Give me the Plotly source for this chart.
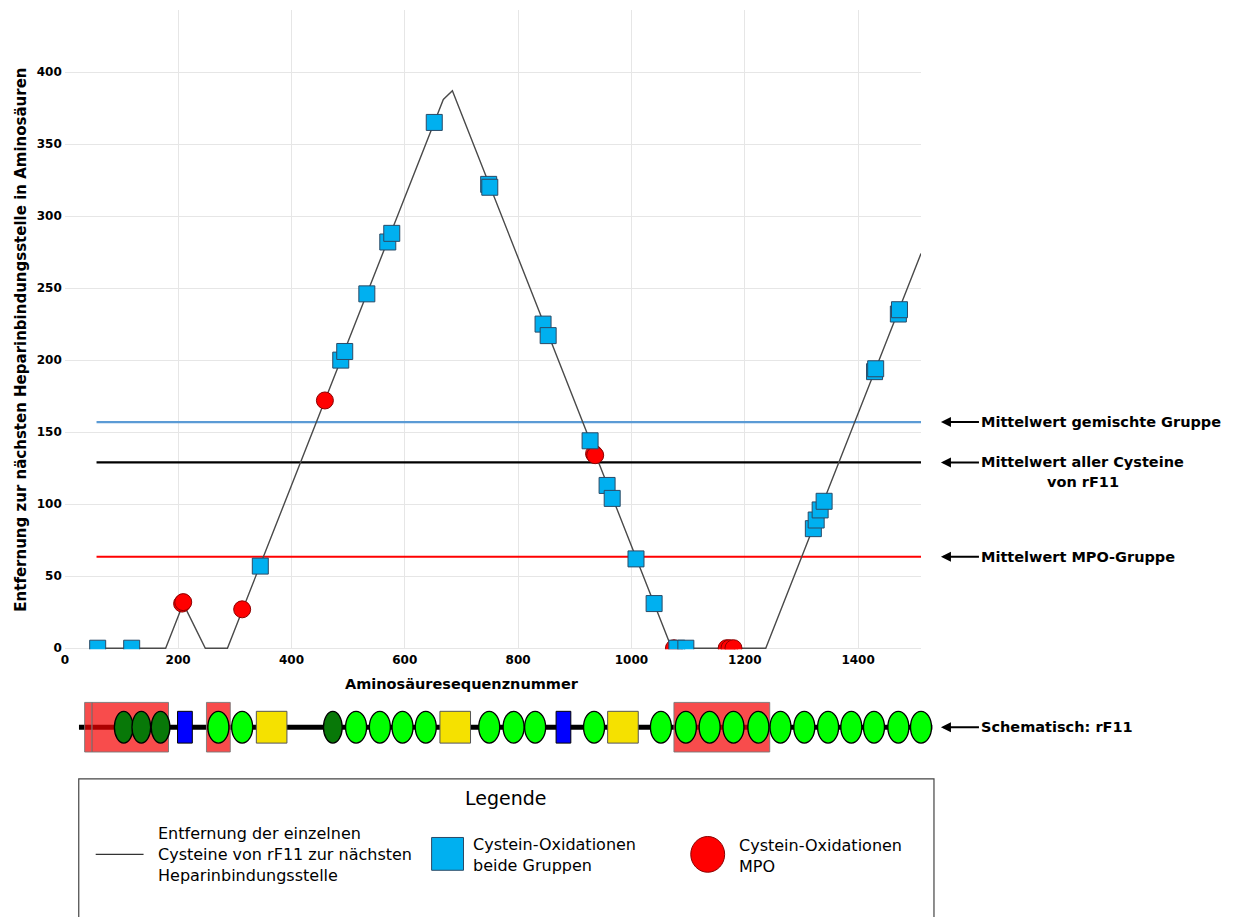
import plotly.graph_objects as go

# ---------------------------------------------------------------------------
# Data
# ---------------------------------------------------------------------------
# Distance of the cysteines of rF11 to the nearest heparin-binding site
curve_pos = [58, 178, 209, 248, 287, 668, 684, 1071, 1237, 1511]
curve_dist = [0, 0, 31, 0, 0, 381, 387, 0, 0, 274]

# Cysteine oxidations found in both groups
both_pos = [58, 118, 345, 487, 494, 533, 570, 577, 652, 748, 750, 844, 853,
            927, 957, 966, 1008, 1040, 1080, 1096, 1321, 1326, 1333, 1340,
            1429, 1431, 1471, 1473]
both_dist = [0, 0, 57, 200, 206, 246, 282, 288, 365, 322, 320, 225, 217,
             144, 113, 104, 62, 31, 0, 0, 83, 89, 96, 102,
             192, 194, 232, 235]

# Cysteine oxidations found in the MPO group
mpo_pos = [207, 209, 313, 459, 934, 936, 1075, 1168, 1173, 1180]
mpo_dist = [31, 32, 27, 172, 135, 134, 0, 0, 0, 0]

# Group means
mean_labels = ["Mittelwert gemischte Gruppe", "Mittelwert aller Cysteine",
               "Mittelwert MPO-Gruppe"]
mean_values = [157, 129, 63.5]
mean_colors = ["#5B9BD5", "#000000", "#FF0000"]
mean_from = 56

x_ticks = [0, 200, 400, 600, 800, 1000, 1200, 1400]
y_ticks = [0, 50, 100, 150, 200, 250, 300, 350, 400]

# Domain schematic of rF11 (residue positions)
backbone = [25, 1531]
heparin_sites = [(35, 48), (48, 183), (250, 292), (1075, 1244)]
dark_domains = [104, 135, 169, 473]
light_domains = [271, 313, 514, 556, 596, 637, 749, 792, 830, 934, 1052,
                 1096, 1138, 1180, 1224, 1263, 1305, 1347, 1388, 1428, 1471,
                 1511]
blue_blocks = [212, 880]
yellow_blocks = [365, 689, 985]

# ---------------------------------------------------------------------------
# Page geometry helpers (paper coordinates from page pixels)
# ---------------------------------------------------------------------------
W, H = 1233, 917
FONT = "DejaVu Sans"


def px(x):
    return x / W


def py(y):
    return 1 - y / H


X_RANGE = [0, 1511]
X_LEFT, X_RIGHT = 61, 920
scale = (X_RIGHT - X_LEFT) / (X_RANGE[1] - X_RANGE[0])
SCHEMA_RIGHT = 935
schema_range = [0, (SCHEMA_RIGHT - X_LEFT) / scale]

fig = go.Figure()

# Mean lines
for val, col in zip(mean_values, mean_colors):
    fig.add_trace(go.Scatter(
        x=[mean_from, X_RANGE[1]], y=[val, val], mode="lines",
        line=dict(color=col, width=2.2), hoverinfo="skip"))

# Distance curve
fig.add_trace(go.Scatter(
    x=curve_pos, y=curve_dist, mode="lines",
    line=dict(color="#4a4a4a", width=1.4)))

# MPO-only oxidations
fig.add_trace(go.Scatter(
    x=mpo_pos, y=mpo_dist, mode="markers",
    marker=dict(symbol="circle", size=17, color="#FF0000",
                line=dict(color="#8B0000", width=1))))

# Oxidations in both groups
fig.add_trace(go.Scatter(
    x=both_pos, y=both_dist, mode="markers",
    marker=dict(symbol="square", size=16, color="#00B0F0",
                line=dict(color="#2B4A66", width=1))))

# Schematic backbone
fig.add_trace(go.Scatter(
    x=backbone, y=[0, 0], mode="lines", xaxis="x2", yaxis="y2",
    line=dict(color="black", width=5), hoverinfo="skip"))

shapes = []
for a, b in heparin_sites:
    shapes.append(dict(type="rect", xref="x2", yref="y2", x0=a, x1=b,
                       y0=-0.78, y1=0.78, fillcolor="rgba(245,0,0,0.7)",
                       line=dict(color="rgba(120,120,120,0.9)", width=1)))
for c in dark_domains:
    shapes.append(dict(type="circle", xref="x2", yref="y2", x0=c - 16.5,
                       x1=c + 16.5, y0=-0.5, y1=0.5, fillcolor="#087808",
                       line=dict(color="black", width=1.3)))
for c in light_domains:
    shapes.append(dict(type="circle", xref="x2", yref="y2", x0=c - 18.5,
                       x1=c + 18.5, y0=-0.5, y1=0.5, fillcolor="#00FF00",
                       line=dict(color="black", width=1.3)))
for c in blue_blocks:
    shapes.append(dict(type="rect", xref="x2", yref="y2", x0=c - 13,
                       x1=c + 13, y0=-0.5, y1=0.5, fillcolor="#0000FF",
                       line=dict(color="black", width=1)))
for c in yellow_blocks:
    shapes.append(dict(type="rect", xref="x2", yref="y2", x0=c - 27,
                       x1=c + 27, y0=-0.5, y1=0.5, fillcolor="#F5E100",
                       line=dict(color="#555555", width=1)))

# Legend box
shapes.append(dict(type="rect", xref="paper", yref="paper",
                   x0=px(75), x1=px(933), y0=py(940), y1=py(784),
                   line=dict(color="#444444", width=1.2)))
shapes.append(dict(type="line", xref="paper", yref="paper",
                   x0=px(92), x1=px(140), y0=py(860), y1=py(860),
                   line=dict(color="#333333", width=1.2)))
shapes.append(dict(type="rect", xref="paper", yref="paper",
                   x0=px(429), x1=px(461), y0=py(876), y1=py(843),
                   fillcolor="#00B0F0", line=dict(color="#2B4A66", width=1)))
shapes.append(dict(type="circle", xref="paper", yref="paper",
                   x0=px(689), x1=px(723), y0=py(878), y1=py(842),
                   fillcolor="#FF0000", line=dict(color="#8B0000", width=1)))

annotations = []
bold = dict(family=FONT, size=14.5, color="black", weight="bold")
# Axis titles
annotations.append(dict(text="Aminosäuresequenznummer", xref="paper",
                        yref="paper", x=px(459), y=py(689),
                        xanchor="center", yanchor="middle", showarrow=False,
                        font=bold))
annotations.append(dict(text="Entfernung zur nächsten Heparinbindungsstelle in Aminosäuren",
                        xref="paper", yref="paper", x=px(17), y=py(342),
                        xanchor="center", yanchor="middle",
                        textangle=-90, showarrow=False,
                        font=dict(family=FONT, size=15, color="black",
                                  weight="bold")))
# Mean labels with arrows
for lab, val in zip(mean_labels, mean_values):
    annotations.append(dict(text=lab, xref="paper", yref="y", x=px(940),
                            y=val, ax=38, ay=0, xanchor="left",
                            yanchor="middle",
                            showarrow=True, arrowhead=2, arrowsize=1,
                            arrowwidth=2, arrowcolor="black", font=bold))
annotations.append(dict(text="von rF11", xref="paper", yref="y", x=px(1083),
                        y=mean_values[1], yshift=-20, xanchor="center",
                        yanchor="middle", showarrow=False, font=bold))
annotations.append(dict(text="Schematisch: rF11", xref="paper", yref="y2",
                        x=px(940), y=0, ax=38, ay=0, xanchor="left",
                        yanchor="middle",
                        showarrow=True, arrowhead=2, arrowsize=1,
                        arrowwidth=2, arrowcolor="black", font=bold))
# Legend texts
leg = dict(family=FONT, size=16, color="black")
annotations.append(dict(text="Legende", xref="paper", yref="paper",
                        x=px(503), y=py(803), xanchor="center",
                        yanchor="middle", showarrow=False,
                        font=dict(family=FONT, size=19, color="black")))
annotations.append(dict(text="Entfernung der einzelnen<br>Cysteine von rF11 zur nächsten<br>Heparinbindungsstelle",
                        xref="paper", yref="paper", x=px(152), y=py(860),
                        xanchor="left", yanchor="middle", align="left",
                        showarrow=False, font=leg))
annotations.append(dict(text="Cystein-Oxidationen<br>beide Gruppen",
                        xref="paper", yref="paper", x=px(469), y=py(861),
                        xanchor="left", yanchor="middle", align="left",
                        showarrow=False, font=leg))
annotations.append(dict(text="Cystein-Oxidationen<br>MPO",
                        xref="paper", yref="paper", x=px(735), y=py(862),
                        xanchor="left", yanchor="middle", align="left",
                        showarrow=False, font=leg))

tick_font = dict(family=FONT, size=12, color="black", weight="bold")
fig.update_layout(
    width=W, height=H, autosize=False,
    margin=dict(l=0, r=0, t=0, b=0),
    paper_bgcolor="white", plot_bgcolor="white",
    showlegend=False,
    xaxis=dict(domain=[px(X_LEFT), px(X_RIGHT)], range=X_RANGE,
               tickvals=x_ticks, showgrid=True, gridcolor="#e6e6e6",
               gridwidth=1, zeroline=False, showline=False, ticks="",
               tickfont=tick_font, ticklabelstandoff=2, anchor="y"),
    yaxis=dict(domain=[py(653.5), py(10)], range=[-0.7, 443.1],
               tickvals=y_ticks, showgrid=True, gridcolor="#e6e6e6",
               gridwidth=1, zeroline=False, showline=False, ticks="",
               tickfont=tick_font, ticklabelstandoff=2, anchor="x"),
    xaxis2=dict(domain=[px(X_LEFT), px(SCHEMA_RIGHT)], range=schema_range,
                visible=False, anchor="y2"),
    yaxis2=dict(domain=[py(764), py(700)], range=[-1, 1], visible=False,
                anchor="x2"),
    shapes=shapes,
    annotations=annotations,
)

fig.write_html("out.html")
